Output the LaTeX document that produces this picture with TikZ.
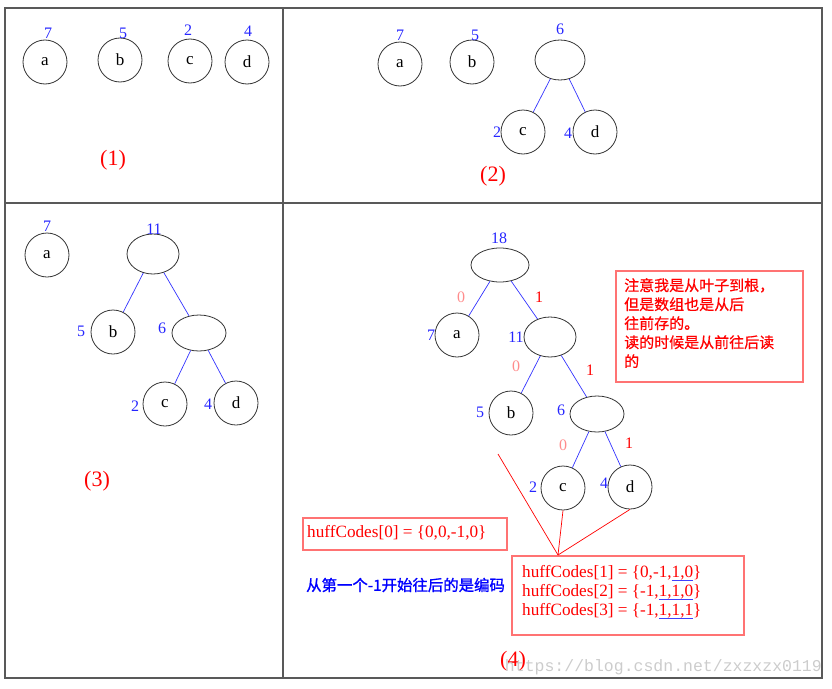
\documentclass[tikz,border=0pt]{standalone}
\usepackage{fontspec}
\setmainfont{Liberation Serif}
\newfontfamily\cjk{Noto Sans CJK SC}
\newfontfamily\cjkb[FakeBold=1.2]{Noto Sans CJK SC}
\newfontfamily\cjkm[FakeBold=0.6]{Noto Sans CJK SC}
\newfontfamily\monof{Liberation Mono}
\usetikzlibrary{shapes.geometric}
\newcommand{\bul}[1]{\setbox0\hbox{#1}\rlap{\color{blue!75}\rule[-3.5pt]{\wd0}{0.9pt}}\box0}
\tikzset{
  leaf/.style={circle, draw=black!80, line width=0.8pt, minimum size=44pt, inner sep=0pt, font=\fontsize{17}{19}\selectfont},
  inode/.style={ellipse, draw=black!80, line width=0.8pt, inner sep=0pt},
  wt/.style={text=blue!85, font=\fontsize{16}{18}\selectfont, inner sep=0pt},
  tedge/.style={draw=blue!80, line width=0.7pt},
  ezero/.style={text=red!45, font=\fontsize{16}{18}\selectfont, inner sep=0pt},
  eone/.style={text=red, font=\fontsize{16}{18}\selectfont, inner sep=0pt},
  capt/.style={text=red, font=\fontsize{22}{26}\selectfont, inner sep=0pt},
  frameline/.style={draw=black!65, line width=1.4pt},
  pbox/.style={draw=red!55, line width=1.5pt, inner sep=0pt},
  redline/.style={draw=red, line width=0.7pt},
  codetext/.style={text=red, font=\fontsize{17.2}{19.2}\selectfont, inner sep=0pt, align=left},
}
\begin{document}
\begin{tikzpicture}[x=1pt,y=-1pt]
\useasboundingbox (0,0) rectangle (832,688);
% frame
\draw[frameline] (5,8) rectangle (822,678);
\draw[frameline] (283,8) -- (283,678);
\draw[frameline] (5,203) -- (822,203);

% ---------- panel (1)
\node[leaf] (a1) at (45,62) {a};
\node[leaf] (b1) at (120,60) {b};
\node[leaf] (c1) at (190,61) {c};
\node[leaf] (d1) at (247,62) {d};
\node[wt] (w1a) at (48,33) {7};
\node[wt] (w1b) at (123,33) {5};
\node[wt] (w1c) at (188,30) {2};
\node[wt] (w1d) at (248,31) {4};
\node[capt] (cap1) at (113,160) {(1)};

% ---------- panel (2)
\node[leaf] (a2) at (400,64) {a};
\node[leaf] (b2) at (472,62) {b};
\node[inode, minimum width=50pt, minimum height=40pt] (n2) at (560,60) {};
\node[leaf] (c2) at (523,132) {c};
\node[leaf] (d2) at (595,132) {d};
\draw[tedge] (n2) -- (c2);
\draw[tedge] (n2) -- (d2);
\node[wt] (w2a) at (400,35) {7};
\node[wt] (w2b) at (475,35) {5};
\node[wt] (w2n) at (560,29) {6};
\node[wt] (w2c) at (497,132) {2};
\node[wt] (w2d) at (568,133) {4};
\node[capt] (cap2) at (493,176) {(2)};

% ---------- panel (3)
\node[leaf] (a3) at (47,255) {a};
\node[inode, minimum width=52pt, minimum height=40pt] (n311) at (153,254) {};
\node[leaf] (b3) at (113,332) {b};
\node[inode, minimum width=54pt, minimum height=36pt] (n36) at (199,333) {};
\node[leaf] (c3) at (165,404) {c};
\node[leaf] (d3) at (236,403) {d};
\draw[tedge] (n311) -- (b3);
\draw[tedge] (n311) -- (n36);
\draw[tedge] (n36) -- (c3);
\draw[tedge] (n36) -- (d3);
\node[wt] (w3a) at (47,226) {7};
\node[wt] (w311) at (154,229) {11};
\node[wt] (w3b) at (81,331) {5};
\node[wt] (w36) at (162,328) {6};
\node[wt] (w3c) at (135,406) {2};
\node[wt] (w3d) at (208,404) {4};
\node[capt] (cap3) at (97,481) {(3)};

% ---------- panel (4)
\node[inode, minimum width=58pt, minimum height=34pt] (n418) at (500,265) {};
\node[leaf] (a4) at (457,335) {a};
\node[inode, minimum width=52pt, minimum height=40pt] (n411) at (550,337) {};
\node[leaf] (b4) at (511,413) {b};
\node[inode, minimum width=54pt, minimum height=36pt] (n46) at (597,414) {};
\node[leaf] (c4) at (563,488) {c};
\node[leaf] (d4) at (630,487) {d};
\draw[tedge] (n418) -- (a4);
\draw[tedge] (n418) -- (n411);
\draw[tedge] (n411) -- (b4);
\draw[tedge] (n411) -- (n46);
\draw[tedge] (n46) -- (c4);
\draw[tedge] (n46) -- (d4);
\node[wt] (w418) at (499,238) {18};
\node[wt] (w4a) at (431,335) {7};
\node[wt] (w411) at (516,337) {11};
\node[wt] (w4b) at (480,412) {5};
\node[wt] (w46) at (561,410) {6};
\node[wt] (w4c) at (533,487) {2};
\node[wt] (w4d) at (604,483) {4};
\node[ezero] (e1) at (461,297) {0};
\node[eone] (e2) at (539,297) {1};
\node[ezero] (e3) at (516,366) {0};
\node[eone] (e4) at (590,370) {1};
\node[ezero] (e5) at (563,445) {0};
\node[eone] (e6) at (629,443) {1};

% note box
\node[pbox, minimum width=187pt, minimum height=111pt] (note) at (709.5,326.5) {};
\node[text=red, font=\cjkm\fontsize{15}{19}\selectfont, inner sep=0pt, align=left, anchor=north west] (notetext) at (624,278)
  {注意我是从叶子到根，\\但是数组也是从后\\往前存的。\\读的时候是从前往后读\\的};

% code boxes
\node[pbox, minimum width=204pt, minimum height=32pt] (box1) at (405,534) {};
\node[codetext, anchor=west] (code0) at (307,533) {huffCodes[0] = \{0,0,-1,0\}};
\node[pbox, minimum width=232pt, minimum height=79pt] (box2) at (628,595.5) {};
\node[codetext, anchor=north west] (codes) at (522,565)
  {huffCodes[1] = \{0,-1,\bul{1,0}\}\\huffCodes[2] = \{-1,\bul{1,1,0}\}\\huffCodes[3] = \{-1,\bul{1,1,1}\}};

\node[text=blue, font=\cjkb\fontsize{15.4}{17}\selectfont, inner sep=0pt, anchor=west] (hint) at (306,585) {从第一个-1开始往后的是编码};

% red pointer lines
\coordinate (bstart) at (498,454);
\coordinate (conv) at (558,555);
\draw[redline] (bstart) -- (conv);
\draw[redline] (c4.south) -- (conv);
\draw[redline] (d4.south) -- (conv);

\node[capt] (cap4) at (513,661) {(4)};
\node[text=black!20, font=\monof\fontsize{16.5}{18}\selectfont, inner sep=0pt, anchor=east] (wm) at (822,667) {https://blog.csdn.net/zxzxzx0119};
\end{tikzpicture}
\end{document}
